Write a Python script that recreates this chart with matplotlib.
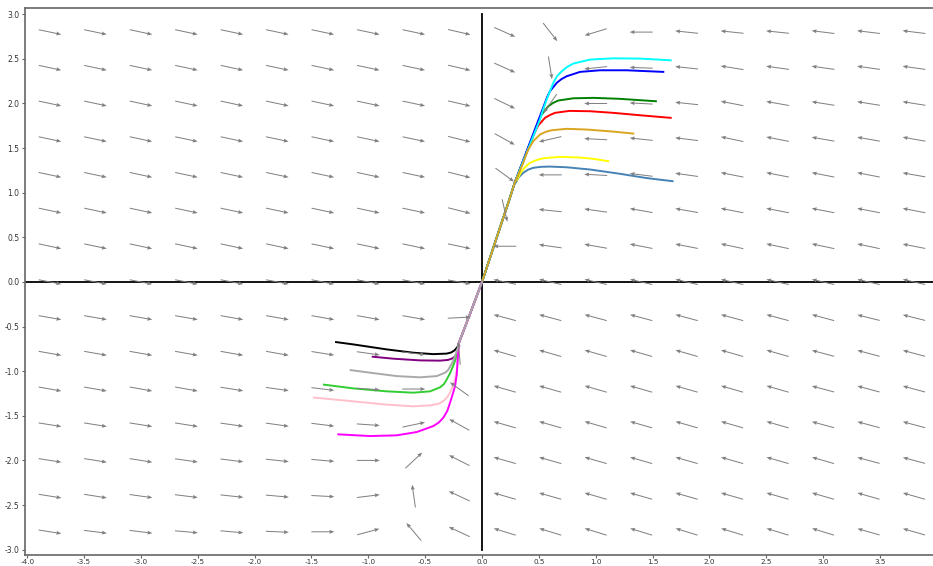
import numpy as np
import matplotlib
matplotlib.use("Agg")
from matplotlib import pyplot as plt


# Grid of the direction field
grid_x = [-3.8, -3.4, -3.0, -2.6, -2.2, -1.8, -1.4, -1.0, -0.6, -0.2,
          0.2, 0.6, 1.0, 1.4, 1.8, 2.2, 2.6, 3.0, 3.4, 3.8]
grid_y = [2.8, 2.4, 2.0, 1.6, 1.2, 0.8, 0.4, 0.0,
          -0.4, -0.8, -1.2, -1.6, -2.0, -2.4, -2.8]

# Arrow directions in degrees (screen), one row per grid_y value
arrow_angles = [
    [-12, -12, -12, -12, -12, -12, -12, -12, -12, -13, -24, -52, 197, 180, 174, 174, 174, 173, 173, 173],
    [-12, -12, -12, -12, -12, -12, -12, -12, -12, -13, -24, -81, 186, 178, 174, 171, 172, 172, 172, 172],
    [-12, -12, -12, -12, -12, -12, -12, -12, -12, -13, -26, 235, 180, 177, 174, 169, 170, 171, 171, 171],
    [-12, -12, -12, -12, -12, -12, -12, -12, -12, -14, -29, 193, 177, 174, 173, 168, 169, 170, 170, 170],
    [-12, -12, -12, -12, -12, -12, -12, -12, -12, -14, -36, 180, 177, 173, 172, 169, 169, 169, 169, 170],
    [-12, -12, -12, -12, -12, -12, -12, -12, -12, -14, -77, 174, 172, 170, 170, 169, 169, 169, 169, 169],
    [-12, -12, -12, -12, -12, -12, -12, -12, -12, -12, 180, 172, 170, 169, 169, 168, 168, 168, 168, 169],
    [-11, -11, -11, -11, -11, -11, -11, -11, -11, -10, 168, 167, 167, 167, 167, 167, 167, 167, 167, 167],
    [-10, -10, -10, -10, -10, -10, -10, -10, -10, 3, 165, 165, 165, 165, 165, 165, 165, 165, 166, 166],
    [-10, -10, -10, -10, -10, -10, -9, -8, -7, 95, 164, 164, 164, 164, 164, 164, 164, 165, 165, 165],
    [-10, -10, -10, -10, -9, -8, -7, -4, 0, 144, 164, 164, 164, 164, 164, 164, 164, 165, 165, 165],
    [-9, -9, -9, -9, -8, -8, -7, -4, 12, 151, 164, 164, 164, 164, 164, 164, 164, 165, 165, 165],
    [-9, -9, -9, -8, -7, -6, -5, 0, 43, 153, 164, 164, 164, 164, 164, 164, 164, 164, 165, 165],
    [-9, -9, -8, -7, -6, -5, -3, 7, 98, 155, 164, 164, 164, 164, 164, 164, 164, 164, 164, 164],
    [-9, -7, -7, -5, -5, -2.5, 0, 15, 130, 155, 163, 163, 163, 163, 163, 163, 163, 163, 164, 164],
]

# Shared stems near the origin
upper_stem_x = [0.0, 0.13, 0.24, 0.29]
upper_stem_y = [0.0, 0.50, 0.92, 1.12]
lower_stem_x = [-0.205, -0.1, 0.0]
lower_stem_y = [-0.69, -0.34, 0.0]

# Upper trajectories (after the stem)
steelblue_x = [0.296, 0.325, 0.363, 0.405, 0.451, 0.520, 0.598, 0.745, 0.950, 1.214, 1.449, 1.677]
steelblue_y = [1.111, 1.175, 1.223, 1.258, 1.279, 1.290, 1.293, 1.285, 1.260, 1.212, 1.164, 1.129]
yellow_x = [0.311, 0.330, 0.349, 0.385, 0.422, 0.480, 0.539, 0.686, 0.862, 0.979, 1.111]
yellow_y = [1.148, 1.200, 1.241, 1.295, 1.335, 1.366, 1.386, 1.402, 1.394, 1.380, 1.353]
goldenrod_x = [0.363, 0.385, 0.407, 0.451, 0.510, 0.560, 0.613, 0.745, 0.921, 1.155, 1.331]
goldenrod_y = [1.335, 1.415, 1.484, 1.577, 1.652, 1.682, 1.700, 1.716, 1.708, 1.685, 1.663]
red_x = [0.451, 0.472, 0.495, 0.554, 0.600, 0.642, 0.770, 0.950, 1.155, 1.390, 1.660]
red_y = [1.633, 1.698, 1.753, 1.839, 1.872, 1.895, 1.917, 1.913, 1.895, 1.868, 1.839]
green_x = [0.481, 0.502, 0.525, 0.583, 0.625, 0.671, 0.803, 0.979, 1.214, 1.530]
green_y = [1.745, 1.815, 1.876, 1.969, 2.006, 2.033, 2.058, 2.063, 2.052, 2.025]
blue_x = [0.554, 0.575, 0.598, 0.657, 0.700, 0.745, 0.862, 1.038, 1.273, 1.595]
blue_y = [2.007, 2.078, 2.137, 2.231, 2.274, 2.305, 2.354, 2.372, 2.372, 2.354]
cyan_x = [0.510, 0.540, 0.569, 0.627, 0.660, 0.701, 0.750, 0.803, 0.950, 1.155, 1.390, 1.660]
cyan_y = [1.820, 1.940, 2.044, 2.231, 2.305, 2.361, 2.410, 2.447, 2.492, 2.506, 2.503, 2.484]

# Lower trajectories (before the stem)
black_x = [-1.284, -1.132, -0.838, -0.604, -0.428, -0.310, -0.270, -0.240, -0.217, -0.205]
black_y = [-0.674, -0.700, -0.756, -0.793, -0.809, -0.803, -0.790, -0.765, -0.730, -0.700]
purple_x = [-0.961, -0.780, -0.545, -0.369, -0.300, -0.266, -0.240, -0.223, -0.210]
purple_y = [-0.838, -0.860, -0.879, -0.882, -0.874, -0.860, -0.838, -0.808, -0.760]
gray_x = [-1.155, -0.985, -0.750, -0.545, -0.398, -0.325, -0.300, -0.281, -0.258, -0.237, -0.215]
gray_y = [-0.988, -1.017, -1.055, -1.069, -1.055, -1.017, -0.990, -0.950, -0.895, -0.831, -0.750]
lime_x = [-1.390, -1.132, -0.838, -0.604, -0.457, -0.369, -0.335, -0.310, -0.280, -0.252, -0.225, -0.210]
lime_y = [-1.151, -1.193, -1.226, -1.241, -1.226, -1.181, -1.145, -1.092, -1.020, -0.935, -0.840, -0.760]
pink_x = [-1.478, -1.132, -0.838, -0.604, -0.457, -0.380, -0.340, -0.305, -0.281, -0.258, -0.237, -0.218]
pink_y = [-1.296, -1.338, -1.375, -1.394, -1.383, -1.365, -1.335, -1.290, -1.241, -1.170, -1.092, -0.960]
magenta_x = [-1.264, -0.985, -0.750, -0.574, -0.428, -0.380, -0.340, -0.305, -0.281, -0.258, -0.237, -0.222]
magenta_y = [-1.708, -1.727, -1.719, -1.682, -1.615, -1.575, -1.521, -1.445, -1.353, -1.260, -1.167, -1.040]

# Draw order: last one sits on top of the shared stem
upper_curves = [
    (steelblue_x, steelblue_y, 'steelblue'),
    (yellow_x, yellow_y, 'yellow'),
    (red_x, red_y, 'red'),
    (green_x, green_y, 'green'),
    (blue_x, blue_y, 'blue'),
    (cyan_x, cyan_y, 'cyan'),
    (goldenrod_x, goldenrod_y, 'goldenrod'),
]
lower_curves = [
    (black_x, black_y, 'black'),
    (purple_x, purple_y, 'purple'),
    (lime_x, lime_y, 'limegreen'),
    (pink_x, pink_y, 'pink'),
    (magenta_x, magenta_y, 'magenta'),
    (gray_x, gray_y, 'darkgray'),
]

# Create figure
dpi = 100
fig = plt.figure(figsize=(933 / dpi, 566 / dpi), dpi=dpi)
ax = fig.add_axes([25 / 933, 11 / 566, 910 / 933, 547 / 566])
ax.set_xlim(-4.02, 3.985)
ax.set_ylim(-3.06, 3.07)

# Coordinate axes
ax.plot([-4.02, 4.0], [0, 0], color='black', lw=1.3, zorder=1)
ax.plot([0, 0], [-3.0, 3.0], color='black', lw=1.3, zorder=1)

# Trajectories
for xs, ys, c in upper_curves:
    ax.plot(upper_stem_x + xs, upper_stem_y + ys, color=c, lw=1.4,
            zorder=2, solid_joinstyle='round')
for xs, ys, c in lower_curves:
    ax.plot(xs + lower_stem_x, ys + lower_stem_y, color=c, lw=1.4,
            zorder=2, solid_joinstyle='round')

# Direction field
X, Y = np.meshgrid(grid_x, grid_y)
theta = np.radians(np.array(arrow_angles, dtype=float))
ax.quiver(X, Y, np.cos(theta), np.sin(theta), angles='uv', pivot='mid',
          scale_units='dots', scale=1 / 23, units='dots', width=1.0,
          headwidth=4, headlength=5, headaxislength=4.5,
          color='gray', zorder=3)

# Ticks and spines
ax.set_xticks(np.arange(-4.0, 3.51, 0.5))
ax.set_yticks(np.arange(-3.0, 3.01, 0.5))
ax.xaxis.set_major_formatter(plt.FormatStrFormatter('%.1f'))
ax.yaxis.set_major_formatter(plt.FormatStrFormatter('%.1f'))
ax.tick_params(length=2.5, width=0.8, color='#666666', labelsize=5.5,
               labelcolor='#333333', pad=1.5)
ax.tick_params(axis='x', pad=0.3, labelsize=5.2)
ax.spines['right'].set_visible(False)
for side in ['left', 'top', 'bottom']:
    ax.spines[side].set_color('#666666')
    ax.spines[side].set_linewidth(1.2)

fig.savefig('out.png', dpi=dpi)
